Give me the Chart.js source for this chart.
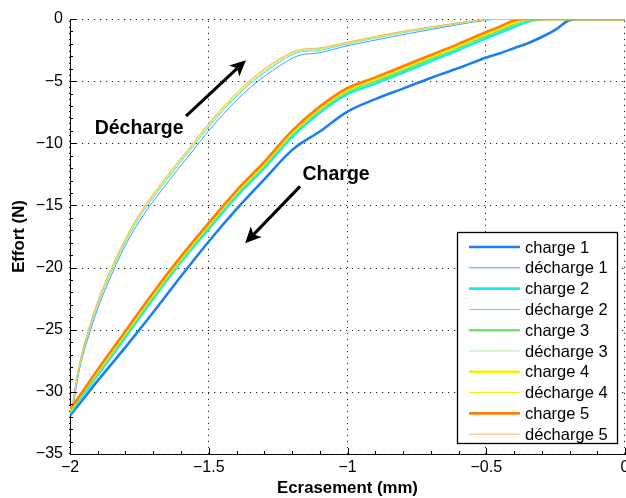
<!DOCTYPE html>
<html><head><meta charset="utf-8">
<script src="https://cdn.jsdelivr.net/npm/chart.js@4/dist/chart.umd.min.js"></script>
<style>html,body{margin:0;padding:0;background:#fff;overflow:hidden;}</style>
</head><body>
<canvas id="c" width="626" height="498"></canvas>
<script>
// ---- data ----
const xCharge = [-2, -1.96, -1.9, -1.8, -1.7, -1.6, -1.5, -1.4, -1.3, -1.2, -1.1, -1.0, -0.9, -0.8, -0.7, -0.6, -0.5, -0.45, -0.4, -0.35, -0.3, -0.25, -0.2, -0.15, 0];
const charge1 = [-31.9, -30.8, -29.1, -26.4, -23.6, -20.7, -17.9, -15.3, -12.9, -10.55, -9.05, -7.45, -6.45, -5.6, -4.75, -3.95, -3.1, -2.75, -2.35, -1.95, -1.45, -0.85, -0.1, 0, 0];
const charge2 = [-31.7, -30.45, -28.65, -25.6, -22.5, -19.55, -16.9, -14.3, -12.0, -9.5, -7.55, -6.05, -5.2, -4.3, -3.4, -2.5, -1.55, -1.1, -0.65, -0.22, 0, 0, 0, 0, 0];
const charge3 = [-31.6, -30.3, -28.5, -25.4, -22.3, -19.4, -16.7, -14.1, -11.8, -9.3, -7.35, -5.85, -5.0, -4.1, -3.2, -2.3, -1.35, -0.9, -0.45, -0.02, 0, 0, 0, 0, 0];
const charge4 = [-31.5, -30.2, -28.35, -25.25, -22.15, -19.25, -16.55, -13.95, -11.65, -9.15, -7.2, -5.7, -4.85, -3.95, -3.05, -2.15, -1.2, -0.75, -0.3, 0, 0, 0, 0, 0, 0];
const charge5 = [-31.4, -30.15, -28.2, -25.1, -22.0, -19.1, -16.4, -13.8, -11.5, -9.0, -7.05, -5.55, -4.7, -3.8, -2.9, -2.0, -1.05, -0.6, -0.12, 0, 0, 0, 0, 0, 0];

const xDecharge = [-2, -1.992, -1.978, -1.964, -1.934, -1.9, -1.866, -1.8, -1.736, -1.65, -1.556, -1.46, -1.37, -1.27, -1.17, -1.11, -1.0, -0.9, -0.8, -0.7, -0.6, -0.5, -0.45, 0];
const decharge1 = [-31.8, -31.5, -29.7, -28.0, -25.6, -23.3, -21.4, -18.2, -15.8, -13.2, -10.55, -7.95, -5.9, -4.15, -2.9, -2.75, -2.15, -1.7, -1.25, -0.85, -0.45, -0.1, -0.02, 0];
const decharge2 = [-31.5, -31.2, -29.4, -27.8, -25.3, -23.0, -21.1, -17.95, -15.5, -12.9, -10.25, -7.65, -5.6, -3.85, -2.65, -2.55, -2.0, -1.55, -1.1, -0.73, -0.37, -0.06, 0, 0];
const decharge3 = [-31.4, -31.1, -29.3, -27.7, -25.2, -22.9, -21.0, -17.85, -15.4, -12.8, -10.15, -7.55, -5.5, -3.75, -2.57, -2.47, -1.95, -1.5, -1.06, -0.7, -0.35, -0.05, 0, 0];
const decharge4 = [-31.35, -31.05, -29.2, -27.6, -25.1, -22.8, -20.9, -17.75, -15.3, -12.7, -10.05, -7.45, -5.4, -3.65, -2.5, -2.4, -1.9, -1.45, -1.02, -0.66, -0.32, -0.04, 0, 0];
const decharge5 = [-31.3, -31.0, -29.1, -27.5, -25.0, -22.7, -20.8, -17.65, -15.2, -12.6, -9.95, -7.35, -5.3, -3.55, -2.45, -2.35, -1.86, -1.4, -0.98, -0.63, -0.3, -0.03, 0, 0];

const seriesLabels = ['charge 1','décharge 1','charge 2','décharge 2','charge 3','décharge 3','charge 4','décharge 4','charge 5','décharge 5'];
const xTicks = [-2, -1.5, -1, -0.5, 0];
const yTicks = [-35, -30, -25, -20, -15, -10, -5, 0];

// ---- styles ----
const FONT = "'Liberation Sans', Arial, Helvetica, sans-serif";
const colors = ['#1a7ff2','#4a9af5','#12eeee','#2af0f0','#6de66d','#a6f0a6','#f4ee00','#f6f000','#ff7f0a','#ffb06a'];
const widths = [2.6, 1, 2.6, 1, 2.6, 1, 2.6, 1, 2.6, 1];

function pts(xs, ys){ return xs.map((x,i)=>({x:x, y:ys[i]})); }
const seriesData = [
  pts(xCharge, charge1), pts(xDecharge, decharge1),
  pts(xCharge, charge2), pts(xDecharge, decharge2),
  pts(xCharge, charge3), pts(xDecharge, decharge3),
  pts(xCharge, charge4), pts(xDecharge, decharge4),
  pts(xCharge, charge5), pts(xDecharge, decharge5)
];
const datasets = seriesData.map((d,i)=>({
  label: seriesLabels[i], data: d, borderColor: colors[i], backgroundColor: colors[i],
  borderWidth: widths[i], pointRadius: 0, fill: false, showLine: true,
  cubicInterpolationMode: 'monotone', order: 20 - i
}));

function fmt(v){ if (Math.abs(v) < 1e-9) return '0'; return (v<0?'\u2212':'') + String(Math.abs(+v.toFixed(2))); }

// annotations (text + arrows, in data units)
const notes = [
  {text:'Décharge', x:-1.751, y:-8.79},
  {text:'Charge', x:-1.041, y:-12.5}
];
const arrows = [
  {x0:-1.582, y0:-7.82, x1:-1.366, y1:-3.31},
  {x0:-1.171, y0:-13.47, x1:-1.369, y1:-18.04}
];

const gridPlugin = {
  id:'dottedGrid',
  beforeDatasetsDraw(chart){
    const {ctx, chartArea:a, scales:{x, y}} = chart;
    ctx.save();
    ctx.strokeStyle = '#222'; ctx.lineWidth = 1; ctx.setLineDash([1.2, 4.8]);
    ctx.beginPath();
    xTicks.forEach(v=>{ const px = Math.round(x.getPixelForValue(v))-0.5; ctx.moveTo(px, a.bottom); ctx.lineTo(px, a.top); });
    yTicks.forEach(v=>{ const py = Math.round(y.getPixelForValue(v))+0.5; ctx.moveTo(a.left, py); ctx.lineTo(a.right, py); });
    ctx.stroke();
    ctx.restore();
  }
};

const decor = {
  id:'decor',
  afterDatasetsDraw(chart){
    const {ctx, chartArea:a, scales:{x, y}} = chart;
    ctx.save();
    // minor & major ticks (inward)
    ctx.strokeStyle = '#000'; ctx.lineWidth = 1;
    ctx.beginPath();
    for (let k=0; k<=35; k++){
      const v = -k; const py = Math.round(y.getPixelForValue(v))+0.5;
      const len = (k%5===0) ? 6 : 3;
      ctx.moveTo(a.left, py); ctx.lineTo(a.left+len, py);
    }
    for (let k=0; k<=20; k++){
      const v = -2 + k*0.1; const px = Math.round(x.getPixelForValue(v))+0.5;
      const len = (k%5===0) ? 6 : 3;
      ctx.moveTo(px, a.bottom); ctx.lineTo(px, a.bottom-len);
    }
    ctx.stroke();
    // arrows
    ctx.strokeStyle = '#000'; ctx.fillStyle = '#000'; ctx.lineWidth = 3;
    arrows.forEach(ar=>{
      const X0 = x.getPixelForValue(ar.x0), Y0 = y.getPixelForValue(ar.y0);
      const X1 = x.getPixelForValue(ar.x1), Y1 = y.getPixelForValue(ar.y1);
      const ang = Math.atan2(Y1-Y0, X1-X0);
      const L = 16, W = 7.5;
      const bx = X1 - L*Math.cos(ang), by = Y1 - L*Math.sin(ang);
      ctx.beginPath(); ctx.moveTo(X0,Y0); ctx.lineTo(bx + 4*Math.cos(ang), by + 4*Math.sin(ang)); ctx.stroke();
      ctx.beginPath();
      ctx.moveTo(X1, Y1);
      ctx.lineTo(bx + W*Math.sin(ang), by - W*Math.cos(ang));
      ctx.lineTo(bx + 4*Math.cos(ang), by + 4*Math.sin(ang));
      ctx.lineTo(bx - W*Math.sin(ang), by + W*Math.cos(ang));
      ctx.closePath(); ctx.fill();
    });
    // annotation text
    ctx.font = 'bold 19.5px ' + FONT; ctx.textAlign='center'; ctx.textBaseline='middle'; ctx.fillStyle='#000';
    notes.forEach(n=>ctx.fillText(n.text, x.getPixelForValue(n.x), y.getPixelForValue(n.y)));
    // legend box
    const bw = 160, bh = 211;
    const bxL = a.right - 168, byT = a.top + 213;
    ctx.fillStyle = '#fff'; ctx.fillRect(bxL, byT, bw, bh);
    ctx.strokeStyle = '#000'; ctx.lineWidth = 1.3; ctx.strokeRect(bxL+0.5, byT+0.5, bw, bh);
    ctx.font = '16.5px ' + FONT; ctx.textAlign='left'; ctx.textBaseline='middle'; ctx.fillStyle='#000';
    chart.data.datasets.forEach((ds,i)=>{
      const ry = byT + 15 + i*20.8;
      ctx.strokeStyle = ds.borderColor; ctx.lineWidth = ds.borderWidth;
      ctx.beginPath(); ctx.moveTo(bxL+12, ry); ctx.lineTo(bxL+63, ry); ctx.stroke();
      ctx.fillText(ds.label, bxL+68, ry+1);
    });
    ctx.restore();
  }
};

Chart.defaults.color = '#000';
Chart.defaults.font.family = FONT;

new Chart(document.getElementById('c'), {
  type: 'scatter',
  data: { datasets },
  options: {
    responsive: false, animation: false, devicePixelRatio: 1,
    layout: { padding: {top: 19, right: 1, left: 0, bottom: 0} },
    plugins: { legend: {display: false}, tooltip: {enabled: false} },
    scales: {
      x: {
        type: 'linear', min: -2, max: 0,
        afterBuildTicks(s){ s.ticks = xTicks.map(v=>({value:v})); },
        afterFit(s){ s.height = 44; s.paddingLeft = 0; s.paddingRight = 0; },
        ticks: { callback: v=>fmt(v), font: {size: 16}, padding: 4, maxRotation: 0, autoSkip: false },
        grid: { display: false, drawTicks: false },
        border: { display: true, color: '#000', width: 1 },
        title: { display: true, text: 'Ecrasement (mm)', font: {size: 16.8, weight: 'bold'}, padding: {top: 0, bottom: 0} }
      },
      y: {
        type: 'linear', min: -35, max: 0,
        afterBuildTicks(s){ s.ticks = yTicks.map(v=>({value:v})); },
        afterFit(s){ s.width = 70; s.paddingTop = 0; s.paddingBottom = 0; },
        ticks: { callback: v=>fmt(v), font: {size: 16}, padding: 7, autoSkip: false },
        grid: { display: false, drawTicks: false },
        border: { display: true, color: '#000', width: 1 },
        title: { display: true, text: 'Effort (N)', font: {size: 16.8, weight: 'bold'}, padding: {top: 9, bottom: 0} }
      }
    }
  },
  plugins: [gridPlugin, decor]
});
</script>
</body></html>
